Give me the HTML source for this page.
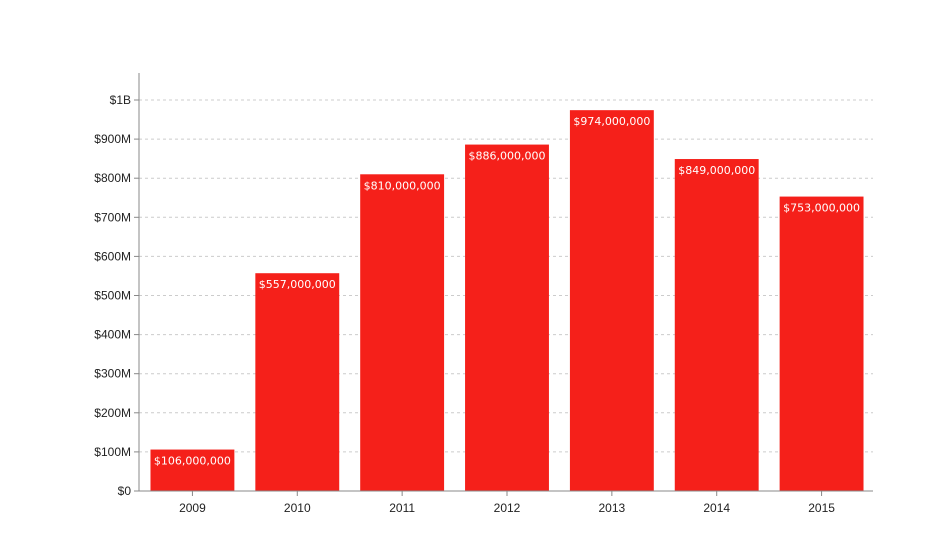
<!DOCTYPE html>
<html><head><meta charset="utf-8"><style>
body{margin:0;background:#fff;width:948px;height:545px;overflow:hidden}
text{font-family:"Liberation Sans",sans-serif}
</style></head><body>
<svg id="chart" width="948" height="545" xmlns="http://www.w3.org/2000/svg"></svg>
<script>
const categories=["2009","2010","2011","2012","2013","2014","2015"];
const values=[106000000,557000000,810000000,886000000,974000000,849000000,753000000];
const tickValues=[0,100e6,200e6,300e6,400e6,500e6,600e6,700e6,800e6,900e6,1e9];
const tickLabels=["$0","$100M","$200M","$300M","$400M","$500M","$600M","$700M","$800M","$900M","$1B"];
const NS="http://www.w3.org/2000/svg";
const svg=document.getElementById('chart');
const L=139,R=873,B=491,T=100;
const y=v=>B-(v/1e9)*(B-T);
const band=(R-L)/categories.length;
const x=i=>L+i*band+band*0.1+1;
const bw=band*0.8;
function mk(t,a,p){const e=document.createElementNS(NS,t);for(const k in a)e.setAttribute(k,a[k]);(p||svg).appendChild(e);return e;}
tickValues.forEach((v,i)=>{
  if(v>0){const g=mk('line',{x1:L,x2:R,y1:y(v),y2:y(v),stroke:'#ccc','stroke-dasharray':'3,3'});
  
  }
  const tk=mk('line',{x1:L-5,x2:L,y1:y(v),y2:y(v),stroke:'#888'});
  
  
  const t=mk('text',{x:L-8,y:y(v)+4,'text-anchor':'end','font-size':12,fill:'#222'});
  t.textContent=tickLabels[i];
  
  
});
values.forEach((v,i)=>{
  const r=mk('rect',{x:x(i),y:y(v),width:bw,height:B-y(v),fill:'#f5201a'});
  
  
  const t=mk('text',{x:x(i)+bw/2,y:y(v)+15,'text-anchor':'middle',style:'font-family:"DejaVu Sans",sans-serif;font-size:11px',fill:'#fff'});
  t.textContent='$'+v.toLocaleString('en-US');
  
  
  const cx=x(i)+bw/2;
  const tk=mk('line',{x1:cx,x2:cx,y1:B,y2:B+5,stroke:'#888'});
  
  
  const c=mk('text',{x:cx,y:B+21,'text-anchor':'middle','font-size':12,fill:'#222'});
  c.textContent=categories[i];
  
  
});
const ya=mk('line',{x1:L,x2:L,y1:73,y2:B,stroke:'#888'});


const xa=mk('line',{x1:L,x2:R,y1:B,y2:B,stroke:'#888'});


</script>
</body></html>
